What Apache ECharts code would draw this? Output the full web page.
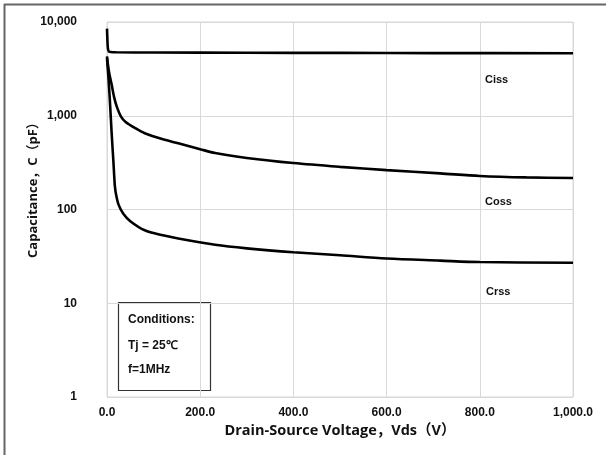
<!DOCTYPE html>
<html><head><meta charset="utf-8">
<script src="https://cdn.jsdelivr.net/npm/echarts@6/dist/echarts.min.js"></script>
<style>html,body{margin:0;padding:0;background:#fff}#c{width:606px;height:455px}</style>
</head><body><div id="c"></div>
<script>
const xTicks = [0, 200, 400, 600, 800, 1000];
const yTicks = [1, 10, 100, 1000, 10000];
const ciss = [[0,8500],[1,6200],[2,5200],[4,4850],[8,4780],[20,4750],[100,4720],[300,4700],[500,4680],[700,4660],[1000,4640]];
const coss = [[0,4300],[2,3500],[5,2800],[10,2150],[15,1600],[21,1250],[30,980],[40,860],[60,740],[81,650],[120,560],[153,508],[200,440],[232,400],[300,355],[400,313],[500,285],[600,263],[715,243],[800,228],[900,220],[1000,217]];
const crss = [[0,4100],[3,2600],[6,1500],[10,650],[13.5,340],[17,175],[20,140],[25,112],[35,90],[50,75],[81,60],[120,53],[153,49],[232,42],[300,38.5],[400,35],[500,32.5],[600,30],[715,28.5],[800,27.5],[1000,27]];
const seriesNames = ['Ciss','Coss','Crss'];
const conditions = ['Conditions:', 'Tj = 25\u2103', 'f=1MHz'];
const xName = 'Drain-Source Voltage，Vds（V）';
const yName = 'Capacitance，C（pF）';

const FONT = '"Liberation Sans", sans-serif';
const NAMEFONT = '"Open Sans", "Noto Sans CJK SC", sans-serif';
const chart = echarts.init(document.getElementById('c'));
function fmtNum(v, d){ return Number(v).toLocaleString('en-US',{minimumFractionDigits:d, maximumFractionDigits:d}); }
const lineStyle = {color:'#000', width:2.6};
chart.setOption({
  animation:false,
  grid:{left:107, top:22, width:466, height:375, show:true, borderColor:'#d9d9d9', borderWidth:1},
  xAxis:{type:'value', min:0, max:1000, interval:200,
    name:xName, nameLocation:'middle', nameGap:23,
    nameTextStyle:{fontFamily:NAMEFONT, fontWeight:'bold', fontSize:14.5, color:'#111'},
    axisLine:{show:false}, axisTick:{show:false},
    axisLabel:{fontFamily:FONT, fontWeight:'bold', fontSize:12, color:'#111', margin:10, formatter:v=>fmtNum(v,1)},
    splitLine:{lineStyle:{color:'#d9d9d9', width:1}}},
  yAxis:{type:'log', logBase:10, min:1, max:10000,
    axisLine:{show:false}, axisTick:{show:false},
    axisLabel:{fontFamily:FONT, fontWeight:'bold', fontSize:12, color:'#111', margin:30, formatter:v=>fmtNum(v,0)},
    splitLine:{lineStyle:{color:'#d9d9d9', width:1}}},
  series:[
    {name:seriesNames[0], type:'line', data:ciss, symbol:'none', smooth:0.3, lineStyle},
    {name:seriesNames[1], type:'line', data:coss, symbol:'none', smooth:0.3, lineStyle},
    {name:seriesNames[2], type:'line', data:crss, symbol:'none', smooth:0.3, lineStyle}
  ],
  graphic:[
    {type:'line', shape:{x1:4, y1:4.5, x2:606, y2:4.5}, style:{stroke:'#666', lineWidth:2}},
    {type:'line', shape:{x1:4.5, y1:4, x2:4.5, y2:455}, style:{stroke:'#666', lineWidth:2}},
    {type:'text', x:33, y:187, rotation:Math.PI/2, style:{text:yName, font:'bold 13px '+NAMEFONT, fill:'#111', textAlign:'center', textVerticalAlign:'middle'}},
    {type:'rect', shape:{x:118.5, y:302.5, width:92, height:88}, style:{fill:'#fff', stroke:'#333', lineWidth:1.2}},
    {type:'text', left:128, top:314, style:{text:conditions[0], font:'bold 12px '+FONT, fill:'#111'}},
    {type:'text', left:128, top:340, style:{text:conditions[1], font:'bold 12px '+FONT, fill:'#111'}},
    {type:'text', left:128, top:364, style:{text:conditions[2], font:'bold 12px '+FONT, fill:'#111'}},
    {type:'text', left:485, top:74, style:{text:seriesNames[0], font:'bold 11px '+FONT, fill:'#111'}},
    {type:'text', left:485, top:196, style:{text:seriesNames[1], font:'bold 11px '+FONT, fill:'#111'}},
    {type:'text', left:486, top:286, style:{text:seriesNames[2], font:'bold 11px '+FONT, fill:'#111'}}
  ]
});
</script></body></html>
